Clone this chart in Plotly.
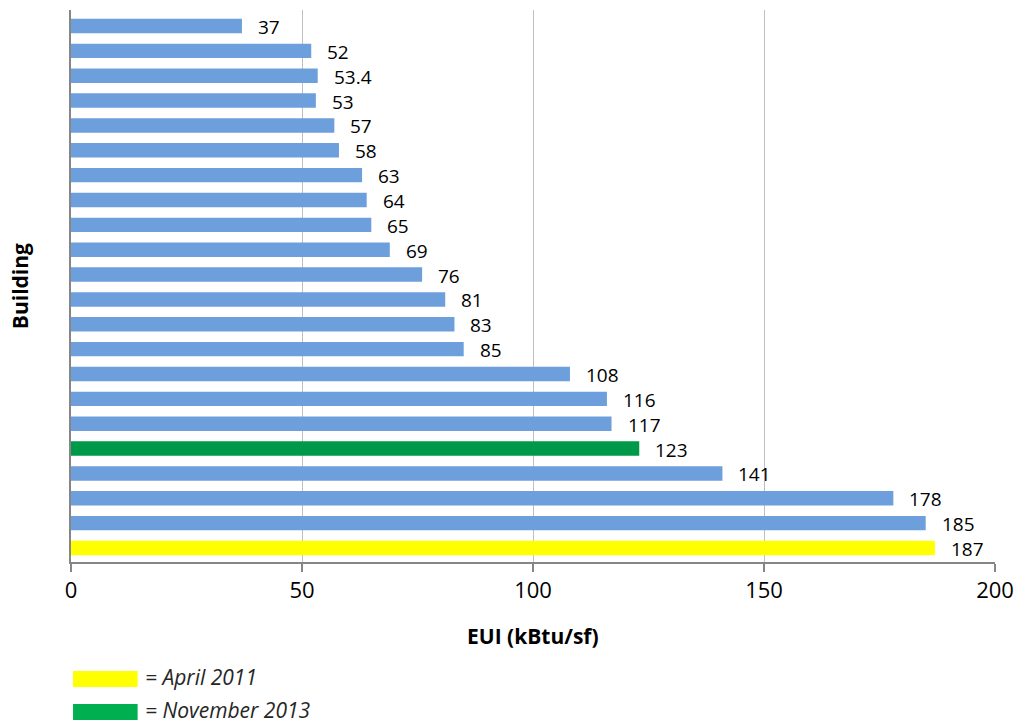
import plotly.graph_objects as go

buildings = [f"Building {i}" for i in range(1, 23)]
eui = [37, 52, 53.4, 53, 57, 58, 63, 64, 65, 69, 76, 81, 83, 85, 108, 116, 117, 123, 141, 178, 185, 187]
label_text = ["37", "52", "53.4", "53", "57", "58", "63", "64", "65", "69", "76", "81", "83", "85",
              "108", "116", "117", "123", "141", "178", "185", "187"]
BLUE = "#6C9FDB"
GREEN = "#00994A"
YELLOW = "#FFFF00"
bar_colors = [BLUE] * 17 + [GREEN] + [BLUE] * 3 + [YELLOW]
x_ticks = [0, 50, 100, 150, 200]
legend_labels = ["= April 2011", "= November 2013"]
legend_colors = [YELLOW, "#00B050"]

FONT = "Open Sans"

fig = go.Figure()
fig.add_trace(go.Bar(
    x=eui, y=buildings, orientation="h",
    marker=dict(color=bar_colors, line=dict(width=0)),
    hoverinfo="x",
))

annotations = []
for b, v, t in zip(buildings, eui, label_text):
    annotations.append(dict(x=v, y=b, xref="x", yref="y", text=t, showarrow=False,
                            xanchor="left", yanchor="middle", xshift=14, yshift=-1,
                            font=dict(family=FONT, size=19, color="#000000")))

# axis titles
annotations.append(dict(x=0.5, y=-0.134, xref="paper", yref="paper", text="<b>EUI (kBtu/sf)</b>",
                        showarrow=False, xanchor="center", yanchor="middle",
                        font=dict(family=FONT, size=21, color="#000000")))
annotations.append(dict(x=-0.055, y=0.5, xref="paper", yref="paper", text="<b>Building</b>",
                        showarrow=False, xanchor="center", yanchor="middle", textangle=-90,
                        font=dict(family=FONT, size=21, color="#000000")))

shapes = []
leg_y = [(-0.1975, -0.2264), (-0.2572, -0.2862)]
for (y0, y1), lab, col in zip(leg_y, legend_labels, legend_colors):
    shapes.append(dict(type="rect", xref="paper", yref="paper", x0=0.0022, x1=0.0721,
                       y0=y1, y1=y0, fillcolor=col, line=dict(width=0)))
    annotations.append(dict(x=0.0776, y=(y0 + y1) / 2, xref="paper", yref="paper",
                            text=f"<i>{lab}</i>", showarrow=False, xanchor="left", yanchor="middle",
                            yshift=2, font=dict(family=FONT, size=21, color="#262626")))

fig.update_layout(
    width=1024, height=723,
    margin=dict(l=71, r=24, t=10, b=161),
    paper_bgcolor="white", plot_bgcolor="white",
    showlegend=False,
    bargap=0.42,
    annotations=annotations,
    shapes=shapes,
    xaxis=dict(range=[0, 200], tickvals=x_ticks, ticktext=[str(t) for t in x_ticks],
               showgrid=True, gridcolor="#BFBFBF", gridwidth=1.3,
               showline=True, linecolor="#868686", linewidth=1.5,
               ticks="outside", ticklen=8, tickcolor="#868686", tickwidth=1.5,
               tickfont=dict(family=FONT, size=22, color="#000000"),
               zeroline=False, fixedrange=True),
    yaxis=dict(type="category", categoryorder="array", categoryarray=buildings,
               autorange="reversed", showticklabels=False, ticks="",
               showline=True, linecolor="#868686", linewidth=1.5,
               showgrid=False, zeroline=False, fixedrange=True),
)

fig.write_html("out.html", config={"displayModeBar": False},
               post_script="document.body.style.margin='0';document.body.style.overflow='hidden';")
